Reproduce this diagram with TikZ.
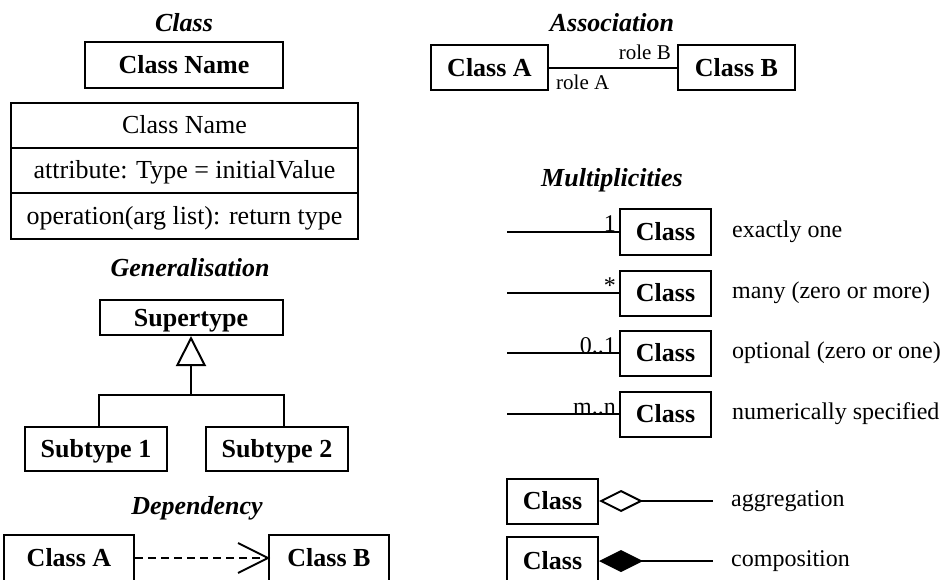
\documentclass[tikz,border=0pt]{standalone}
\usepackage{fontspec}
\setmainfont{Liberation Serif}
\usetikzlibrary{arrows.meta}
\tikzset{
  umlbox/.style={draw, line width=2pt, inner sep=0pt,
    text height=17pt, text depth=0pt,
    font=\fontsize{26}{30}\selectfont\bfseries},
  rowbox/.style={draw, line width=2pt, inner sep=0pt,
    minimum width=347pt, minimum height=45pt,
    text height=17pt, text depth=0pt,
    font=\fontsize{26}{30}\selectfont},
  heading/.style={inner sep=0pt, font=\fontsize{26}{30}\selectfont\bfseries\itshape},
  note/.style={anchor=west, inner sep=0pt, text height=11pt, text depth=0pt,
    font=\fontsize{24}{28}\selectfont},
  mult/.style={anchor=base east, inner sep=0pt, xshift=-3pt,
    font=\fontsize{24}{28}\selectfont},
  rolelabel/.style={inner sep=0pt, font=\fontsize{21}{24}\selectfont},
  link/.style={line width=2pt},
}
\begin{document}
\begin{tikzpicture}[x=1pt, y=-1pt]
\useasboundingbox (0,0) rectangle (942,580);
\clip (0,0) rectangle (942,580);

% ---- Class ----
\node[heading] (tclass) at (184,23) {Class};
\node[umlbox, minimum width=198pt, minimum height=46pt] (cname) at (184,65) {Class Name};
\node[rowbox] (row1) at (184.5,125.5) {Class Name};
\node[rowbox] (row2) at (184.5,170.5) {attribute: Type = initialValue};
\node[rowbox] (row3) at (184.5,216) {operation(arg list): return type};

% ---- Generalisation ----
\node[heading] (tgen) at (190,268) {Generalisation};
\node[umlbox, minimum width=183pt, minimum height=35pt] (sup) at (191,317.5) {Supertype};
\node[umlbox, minimum width=142pt, minimum height=44pt] (sub1) at (96,449) {Subtype 1};
\node[umlbox, minimum width=142pt, minimum height=44pt] (sub2) at (277,449) {Subtype 2};
\coordinate (j) at (191,395);
\draw[link] (sub1.north -| sup.west) |- (j) -| (sub2.north -| sup.east);
\draw[link, -{Triangle[open, length=30pt, width=30pt]}] (j) -- (sup.south);

% ---- Dependency ----
\node[heading] (tdep) at (197,508) {Dependency};
\node[umlbox, minimum width=130pt, minimum height=46pt] (da) at (69,558) {Class A};
\node[umlbox, minimum width=120pt, minimum height=46pt] (db) at (329,558) {Class B};
\draw[link, dash pattern=on 8pt off 5pt] (da.east) -- (db.west);
\draw[link, line join=miter] ([xshift=-30pt, yshift=15pt]db.west) -- (db.west)
  -- ([xshift=-30pt, yshift=-15pt]db.west);

% ---- Association ----
\node[heading] (tassoc) at (612,23) {Association};
\node[umlbox, minimum width=117pt, minimum height=45pt] (aa) at (489.5,68) {Class A};
\node[umlbox, minimum width=117pt, minimum height=45pt] (ab) at (736.5,68) {Class B};
\draw[link] (aa.east) -- (ab.west);
\node[rolelabel, anchor=base east, xshift=-6pt, yshift=8pt] (rb) at (ab.west) {role B};
\node[rolelabel, anchor=base west, xshift=7pt, yshift=-22pt] (ra) at (aa.east) {role A};

% ---- Multiplicities ----
\node[heading] (tmult) at (612,180) {Multiplicities};
\node[umlbox, minimum width=91pt, minimum height=45pt] (m1) at (665.5,232) {Class};
\node[umlbox, minimum width=91pt, minimum height=45pt] (m2) at (665.5,293) {Class};
\node[umlbox, minimum width=91pt, minimum height=45pt] (m3) at (665.5,353) {Class};
\node[umlbox, minimum width=91pt, minimum height=45pt] (m4) at (665.5,414) {Class};
\coordinate (e1) at (507,232);
\coordinate (e2) at (507,293);
\coordinate (e3) at (507,353);
\coordinate (e4) at (507,414);
\draw[link] (e1) -- (m1.west);
\draw[link] (e2) -- (m2.west);
\draw[link] (e3) -- (m3.west);
\draw[link] (e4) -- (m4.west);
\node[mult] (l1) at (m1.west) {1};
\node[mult] (l2) at (m2.west) {*};
\node[mult] (l3) at (m3.west) {0..1};
\node[mult] (l4) at (m4.west) {m..n};
\node[note, xshift=20pt] (d1) at (m1.east) {exactly one};
\node[note, xshift=20pt] (d2) at (m2.east) {many (zero or more)};
\node[note, xshift=20pt] (d3) at (m3.east) {optional (zero or one)};
\node[note, xshift=20pt] (d4) at (m4.east) {numerically specified};

% ---- Aggregation and composition ----
\node[umlbox, minimum width=91pt, minimum height=45pt] (agg) at (552.5,501) {Class};
\node[umlbox, minimum width=91pt, minimum height=48pt] (comp) at (552.5,561) {Class};
\node[note] (aggtxt) at (731,501) {aggregation};
\node[note] (comptxt) at (731,561) {composition};
\draw[link, shorten >=18pt, {Diamond[open, length=44pt, width=22pt]}-] (agg.east) -- (aggtxt.west);
\draw[link, shorten >=18pt, {Diamond[length=44pt, width=22pt]}-] (comp.east) -- (comptxt.west);
\end{tikzpicture}
\end{document}
